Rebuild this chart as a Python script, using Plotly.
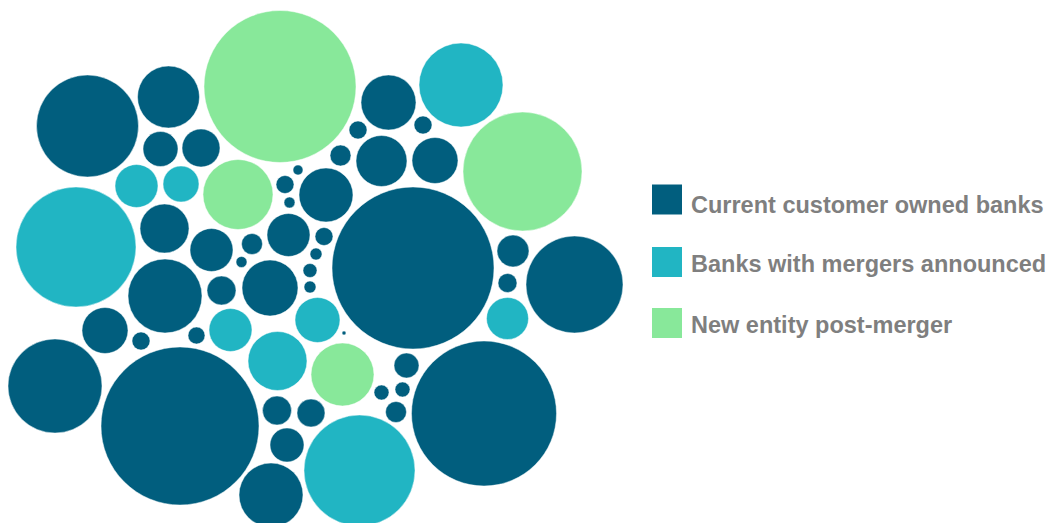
import plotly.graph_objects as go

# Bubble layout: centre x, centre y and radius for each bank, per group
owned_x = [87.5, 168.5, 160.5, 201, 164.5, 211.5, 388.5, 358, 381.5, 340.5, 298, 285, 289.5, 326,
           413, 288.5, 324, 252, 423, 435, 513, 574.5, 507.5, 484, 270, 221.5, 241.5, 310, 310,
           316, 344, 277, 311, 287, 271, 406.5, 381.5, 402.5, 396, 165, 105, 141, 196.5, 55, 180]
owned_y = [126, 97, 149, 148, 228.5, 250, 102.5, 130, 161, 155.5, 170, 184.5, 202.5, 195,
           268, 235, 236.5, 244, 125, 160.5, 251, 284.5, 283, 413.5, 288, 290.5, 262, 270.5, 287,
           254, 333, 410.5, 413, 445, 495, 365.5, 392.5, 389.5, 412, 296, 330.5, 341, 335.5, 386, 426]
owned_r = [51, 31, 17.5, 19, 24.5, 21.5, 27.5, 9, 25.5, 10.5, 5, 9, 5.5, 27,
           81, 21.5, 9, 10.5, 9, 23, 16, 48.5, 9.5, 72.5, 28, 14.5, 5.5, 7, 6,
           6, 2, 14.5, 14, 17, 32, 12.5, 7.5, 7.5, 10.5, 37, 23, 9, 8.5, 47, 79]

merging_x = [136.5, 181, 76, 461, 507.5, 317.5, 230.5, 277.5, 359.5]
merging_y = [186, 184, 247, 85, 318.5, 320, 330, 361, 470.5]
merging_r = [21.5, 18, 60, 42, 21, 22.5, 21.5, 29.5, 55.5]

merged_x = [280, 238, 522.5, 342.5]
merged_y = [86.5, 194.5, 171.5, 374.5]
merged_r = [76, 35, 59.5, 31.5]

group_names = ["Current customer owned banks", "Banks with mergers announced", "New entity post-merger"]
group_colors = ["#015E7E", "#21B5C3", "#88E89A"]

W, H = 1052, 523

fig = go.Figure()
groups = [(owned_x, owned_y, owned_r), (merging_x, merging_y, merging_r), (merged_x, merged_y, merged_r)]
for (xs, ys, rs), name, color in zip(groups, group_names, group_colors):
    fig.add_trace(go.Scatter(
        x=xs, y=ys, mode="markers", name=name, showlegend=False,
        marker=dict(size=[2 * r for r in rs], color=color, opacity=1,
                    line=dict(width=0.8, color="rgba(255,255,255,0.6)")),
        hoverinfo="name",
    ))

# Legend: coloured squares with bold grey labels
legend_square_y = [199.5, 262, 323]
legend_text_y = [205, 263.5, 324.5]
for name, color, sy, ty in zip(group_names, group_colors, legend_square_y, legend_text_y):
    fig.add_shape(type="rect", xref="x", yref="y", x0=652, x1=682, y0=sy - 15, y1=sy + 15,
                  fillcolor=color, line=dict(width=0))
    fig.add_annotation(xref="x", yref="y", x=689, y=ty, text=f"<b>{name}</b>", showarrow=False,
                       xanchor="left", yanchor="middle",
                       font=dict(family="Liberation Sans, Arial, sans-serif", size=23.5, color="#7F7F7F"))

fig.update_layout(
    width=W, height=H, margin=dict(l=0, r=0, t=0, b=0),
    paper_bgcolor="white", plot_bgcolor="white",
    xaxis=dict(range=[0, W], visible=False, fixedrange=True),
    yaxis=dict(range=[H, 0], visible=False, fixedrange=True),
    showlegend=False,
)

fig.write_html("out.html")
